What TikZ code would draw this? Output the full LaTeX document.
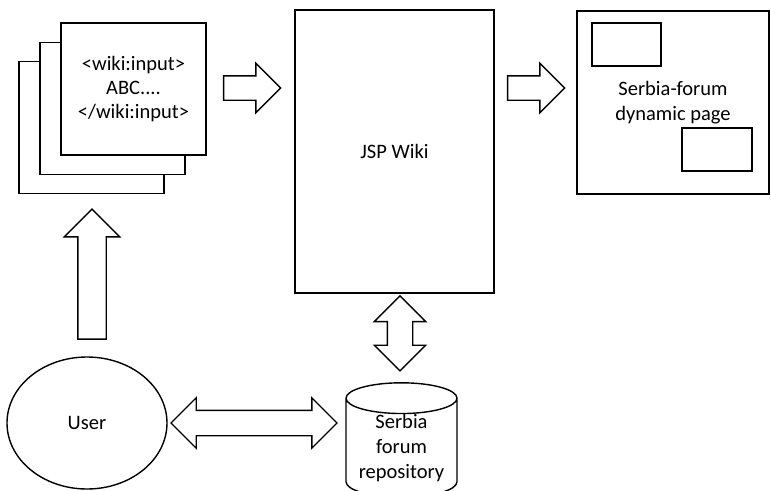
\documentclass[tikz,border=0pt]{standalone}
\usepackage{fontspec}
\setmainfont{Carlito}
\usetikzlibrary{shapes.geometric,shapes.arrows,calc}

\begin{document}
\begin{tikzpicture}%
	[x=1pt,y=-1pt,
	font=\fontsize{20.5}{24}\selectfont,
	box/.style={draw=black, line width=1.4pt, fill=white, inner sep=0pt},
	sheet/.style={box, minimum width=145, minimum height=132, align=center},
	panel/.style={box, align=center},
	slot/.style={box, minimum width=69, minimum height=43},
	fatarrow/.style={draw=black, line width=1.4pt, fill=white, single arrow, single arrow head extend=12.5, inner sep=11.5, minimum width=48, minimum height=57},
	twoway/.style={draw=black, line width=1.4pt, fill=white, double arrow, double arrow head extend=12.5, inner sep=12, minimum width=49}]
	\useasboundingbox (0,0) rectangle (771,490);

	% stack of wiki pages
	\node[sheet] (back) at (91.5,127.5) {};
	\node[sheet] (mid) at ($(back)+(21,-19)$) {};
	\node[sheet] (front) at ($(mid)+(21,-19.5)$) {<wiki:input>\\ABC....\\</wiki:input>};

	% engine and result
	\node[panel, minimum width=199, minimum height=283] (wiki) at (394.5,151.5) {JSP Wiki};
	\node[panel, minimum width=192, minimum height=183, font=\fontsize{20.5}{24.5}\selectfont] (dyn) at (673,102.5) {Serbia-forum\\dynamic page};
	\node[slot] (slota) at (626.5,44.5) {};
	\node[slot, minimum width=70] (slotb) at (717,149.5) {};

	% user and repository
	\node[box, ellipse, minimum width=160, minimum height=132] (user) at (87,423) {User};
	\node[box, cylinder, shape border rotate=90, aspect=0.36, minimum width=111, minimum height=89, align=center,
		font=\fontsize{20.5}{25}\selectfont] (repo) at (401.5,448) {Serbia\\forum\\repository};

	% block arrows
	\node[fatarrow] (toWiki) at ($(front.east)!0.5!(front.east -| wiki.west)+(-4.5,-1)$) {};
	\node[fatarrow, minimum width=49] (toPage) at ($(wiki.east |- toWiki)!0.5!(dyn.west |- toWiki)+(-5.5,0)$) {};
	\node[fatarrow, rotate=90, inner sep=13.5, single arrow head extend=13.5, minimum width=54, minimum height=130]
		(edit) at ($(back.south)!0.5!(back.south |- user.north)+(0.5,6)$) {};
	\node[twoway, minimum height=166] (userRepo) at ($(user.east)!0.5!(user.east -| repo.west)+(-2.5,0)$) {};
	\node[twoway, rotate=90, double arrow head extend=13, minimum width=50, minimum height=75]
		(wikiRepo) at ($(repo.north |- wiki.south)!0.5!(repo.north)+(-1.5,-4.5)$) {};
\end{tikzpicture}
\end{document}
